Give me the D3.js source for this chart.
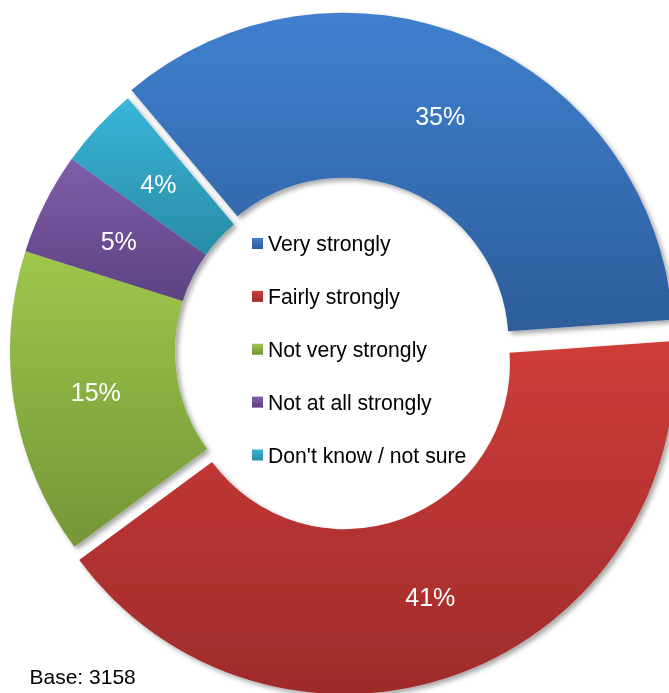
<!DOCTYPE html>
<html>
<head>
<meta charset="utf-8">
<script src="https://cdn.jsdelivr.net/npm/d3@7"></script>
<style>
  html, body { margin: 0; padding: 0; background: #fff; }
  svg { display: block; font-family: "Liberation Sans", Arial, sans-serif; }
</style>
</head>
<body>
<svg id="chart" width="669" height="693"></svg>
<script>
// Survey answers: how strongly respondents feel
const categories = ["Very strongly", "Fairly strongly", "Not very strongly", "Not at all strongly", "Don't know / not sure"];
const values = [35, 41, 15, 5, 4];
const labels = ["35%", "41%", "15%", "5%", "4%"];
const baseNote = "Base: 3158";

// Gradient stops (top, bottom) per slice
const colorTop = ["#3f80ce", "#cf3c39", "#9ec74c", "#7f5da9", "#38b6d9"];
const colorBottom = ["#2d5d9b", "#9f2b2b", "#749637", "#5d4382", "#298ba5"];
// Pull-out distance of each slice from the common centre
const explode = [9, 14, 0, 0, 0];

const svg = d3.select("#chart");
const cx = 340, cy = 351;
const outerR = 330, innerR = 165;
const startAngle = -40 * Math.PI / 180;

const defs = svg.append("defs");
categories.forEach((c, i) => {
  const g = defs.append("linearGradient")
    .attr("id", "grad" + i)
    .attr("x1", 0).attr("y1", 0).attr("x2", 0).attr("y2", 1);
  g.append("stop").attr("offset", "0%").attr("stop-color", colorTop[i]);
  g.append("stop").attr("offset", "100%").attr("stop-color", colorBottom[i]);
});
const shadow = defs.append("filter").attr("id", "shadow")
  .attr("x", "-20%").attr("y", "-20%").attr("width", "140%").attr("height", "140%");
shadow.append("feDropShadow")
  .attr("dx", 3).attr("dy", 3).attr("stdDeviation", 2.5)
  .attr("flood-color", "#000").attr("flood-opacity", 0.35);

const pie = d3.pie().value(d => d).sort(null)
  .startAngle(startAngle).endAngle(startAngle + 2 * Math.PI);
const arcs = pie(values);
const arc = d3.arc().innerRadius(innerR).outerRadius(outerR);

function offset(d, i) {
  const mid = (d.startAngle + d.endAngle) / 2;
  return [Math.sin(mid) * explode[i], -Math.cos(mid) * explode[i]];
}

const ring = svg.append("g")
  .attr("transform", `translate(${cx},${cy})`)
  .attr("filter", "url(#shadow)");

ring.selectAll("path")
  .data(arcs)
  .join("path")
  .attr("transform", (d, i) => { const o = offset(d, i); return `translate(${o[0]},${o[1]})`; })
  .attr("d", arc)
  .attr("fill", (d, i) => `url(#grad${i})`);

// Percentage labels at slice centroids
svg.append("g")
  .attr("transform", `translate(${cx},${cy})`)
  .selectAll("text")
  .data(arcs)
  .join("text")
  .attr("transform", (d, i) => {
    const o = offset(d, i);
    const c = arc.centroid(d);
    return `translate(${c[0] + o[0]},${c[1] + o[1]})`;
  })
  .attr("text-anchor", "middle")
  .attr("dy", "0.4em")
  .attr("fill", "#fff")
  .attr("font-size", 25)
  .text((d, i) => labels[i]);

// Legend inside the hole
const legendY = d3.scalePoint().domain(categories).range([243.5, 455]);
const legend = svg.append("g");
const item = legend.selectAll("g")
  .data(categories)
  .join("g")
  .attr("transform", d => `translate(252,${legendY(d)})`);
item.append("rect")
  .attr("x", 0).attr("y", -5.5)
  .attr("width", 11).attr("height", 11)
  .attr("fill", (d, i) => `url(#grad${i})`);
item.append("text")
  .attr("x", 16)
  .attr("dy", "0.36em")
  .attr("font-size", 21.2)
  .attr("fill", "#000")
  .text(d => d);

svg.append("text")
  .attr("x", 29.5).attr("y", 683.5)
  .attr("font-size", 21)
  .attr("fill", "#000")
  .text(baseNote);
</script>
</body>
</html>
